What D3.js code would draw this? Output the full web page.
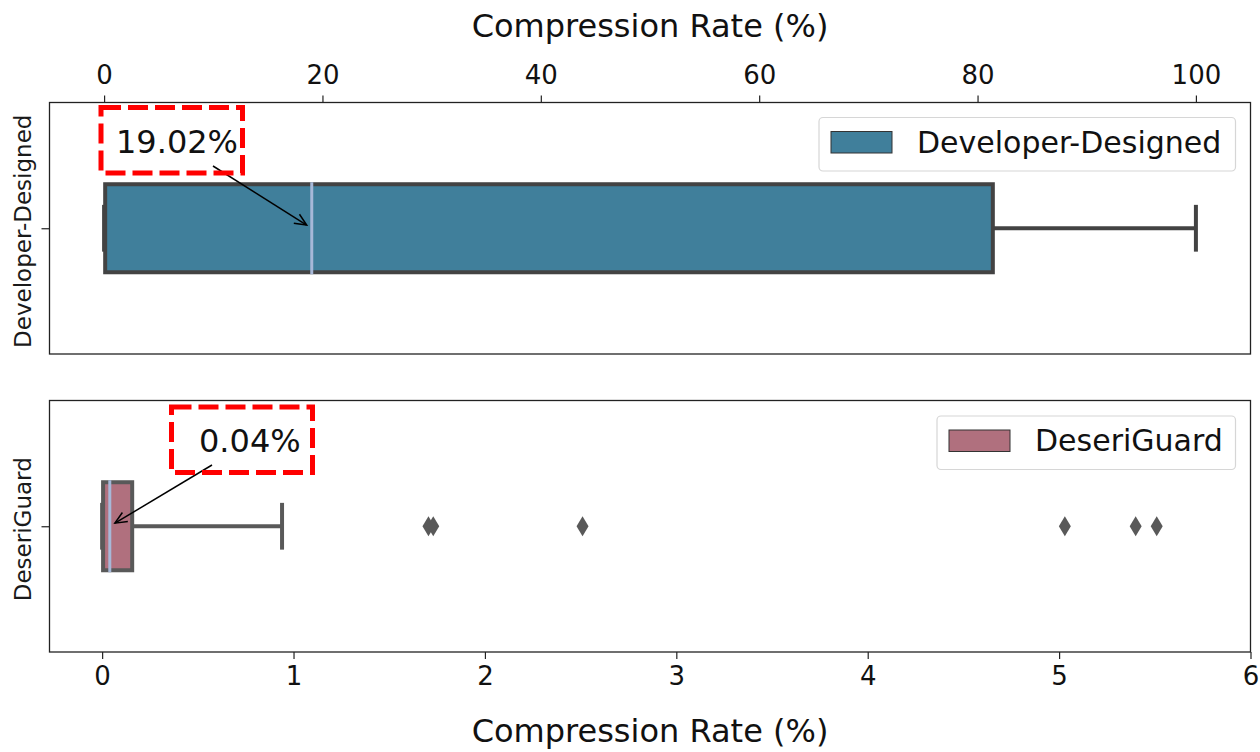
<!DOCTYPE html>
<html><head><meta charset="utf-8">
<script src="https://cdn.jsdelivr.net/npm/d3@7"></script>
<style>body{margin:0;background:#fff}svg{display:block;font-family:"DejaVu Sans",sans-serif}</style>
</head><body><svg id="c" width="1260" height="752"></svg>
<script>
// ---- data ----
const categories = ["Developer-Designed", "DeseriGuard"];
const whiskerLow = [0, 0];
const q1 = [0.1, 0.005];
const medians = [19.02, 0.04];
const q3 = [81.4, 0.157];
const whiskerHigh = [100, 0.94];
const outliers = [[], [1.705, 1.73, 2.51, 5.03, 5.40, 5.51]];
const annotationLabels = ["19.02%", "0.04%"];
const topTicks = [0, 20, 40, 60, 80, 100];
const bottomTicks = [0, 1, 2, 3, 4, 5, 6];
const axisTitle = "Compression Rate (%)";

// ---- styles / layout ----
const fills = ["#407f9b", "#b0707e"];
const edges = ["#434343", "#595959"];
const medianColor = "#a7b8d8";
const L = 49.5, R = 1250.5;
const panels = [{top: 102.5, bottom: 354}, {top: 400.5, bottom: 652}];
const domains = [[-5, 105], [-0.275, 6]];
const annLayout = [
  {tx: 116, ty: 153, rect: [101, 107.5, 242.5, 173], start: [213, 166]},
  {tx: 199, ty: 452, rect: [171.5, 407, 312.5, 472.5], start: [212, 465]}
];
const legendLayout = [
  {x0: 819, x1: 1235.5, y0: 117.5, y1: 171},
  {x0: 937, x1: 1235.5, y0: 416, y1: 469.5}
];

const svg = d3.select("#c");

const thinDiamond = {
  draw(ctx, size) {
    const w = 6, h = 10;
    ctx.moveTo(0, -h); ctx.lineTo(w, 0); ctx.lineTo(0, h); ctx.lineTo(-w, 0); ctx.closePath();
  }
};

categories.forEach((cat, i) => {
  const p = panels[i];
  const x = d3.scaleLinear().domain(domains[i]).range([L, R]);
  const y = d3.scaleLinear().domain([-0.5, 0.5]).range([p.top, p.bottom]);
  const g = svg.append("g");

  // axes
  if (i === 0) {
    const ax = g.append("g").attr("transform", `translate(0,${p.top})`)
      .call(d3.axisTop(x).tickValues(topTicks).tickSize(7).tickPadding(12).tickFormat(d3.format("d")));
    ax.select(".domain").remove();
    ax.selectAll("line").attr("stroke", "#222").attr("stroke-width", 1.2);
    ax.selectAll("text").attr("font-size", 26).attr("fill", "#111").attr("font-family", "DejaVu Sans");
  } else {
    const ax = g.append("g").attr("transform", `translate(0,${p.bottom})`)
      .call(d3.axisBottom(x).tickValues(bottomTicks).tickSize(7).tickPadding(8).tickFormat(d3.format("d")));
    ax.select(".domain").remove();
    ax.selectAll("line").attr("stroke", "#222").attr("stroke-width", 1.2);
    ax.selectAll("text").attr("font-size", 26).attr("fill", "#111").attr("font-family", "DejaVu Sans");
  }
  const ay = g.append("g").attr("transform", `translate(${L},0)`)
    .call(d3.axisLeft(y).tickValues([0]).tickSize(8).tickFormat(""));
  ay.select(".domain").remove();
  ay.selectAll("line").attr("stroke", "#222").attr("stroke-width", 1.2);

  // y label
  g.append("text").attr("transform", `translate(31,${y(0) + 3}) rotate(-90)`)
    .attr("text-anchor", "middle").attr("font-size", 23).attr("fill", "#1a1a1a").text(cat);

  // box
  const bw = 0.175, cw = 0.093;
  const sw = 4;
  g.append("line").attr("x1", x(whiskerLow[i])).attr("x2", x(q1[i])).attr("y1", y(0)).attr("y2", y(0))
    .attr("stroke", edges[i]).attr("stroke-width", sw);
  g.append("line").attr("x1", x(q3[i])).attr("x2", x(whiskerHigh[i])).attr("y1", y(0)).attr("y2", y(0))
    .attr("stroke", edges[i]).attr("stroke-width", sw);
  [whiskerLow[i], whiskerHigh[i]].forEach(v => {
    g.append("line").attr("x1", x(v)).attr("x2", x(v)).attr("y1", y(-cw)).attr("y2", y(cw))
      .attr("stroke", edges[i]).attr("stroke-width", sw);
  });
  g.append("rect").attr("x", x(q1[i])).attr("width", x(q3[i]) - x(q1[i]))
    .attr("y", y(-bw)).attr("height", y(bw) - y(-bw))
    .attr("fill", fills[i]).attr("stroke", edges[i]).attr("stroke-width", sw);
  g.append("line").attr("x1", x(medians[i])).attr("x2", x(medians[i]))
    .attr("y1", y(-bw) - sw / 2).attr("y2", y(bw) + sw / 2)
    .attr("stroke", medianColor).attr("stroke-width", 3);

  // outliers
  g.selectAll(".out").data(outliers[i]).enter().append("path")
    .attr("d", d3.symbol().type(thinDiamond))
    .attr("transform", d => `translate(${x(d)},${y(0)})`)
    .attr("fill", edges[i]);

  // frame
  g.append("rect").attr("x", L).attr("y", p.top).attr("width", R - L).attr("height", p.bottom - p.top)
    .attr("fill", "none").attr("stroke", "#222").attr("stroke-width", 1.3);

  // legend
  const lg = legendLayout[i];
  g.append("rect").attr("x", lg.x0).attr("y", lg.y0).attr("width", lg.x1 - lg.x0).attr("height", lg.y1 - lg.y0)
    .attr("rx", 4).attr("fill", "#fff").attr("fill-opacity", 0.8).attr("stroke", "#d6d6d6").attr("stroke-width", 1.2);
  g.append("rect").attr("x", lg.x0 + 12).attr("y", lg.y0 + 14).attr("width", 61).attr("height", 21.5)
    .attr("fill", fills[i]).attr("stroke", "#333").attr("stroke-width", 1);
  g.append("text").attr("x", lg.x0 + 98).attr("y", lg.y0 + 35).attr("font-size", 30).attr("fill", "#111").text(cat);

  // annotation
  const a = annLayout[i];
  const [sx, sy] = a.start;
  const mx = x(medians[i]), my = y(0);
  const dx = mx - sx, dy = my - sy, len = Math.hypot(dx, dy);
  const ux = dx / len, uy = dy / len;
  const ex = mx - ux * 6, ey = my - uy * 6;
  g.append("line").attr("x1", sx).attr("y1", sy).attr("x2", ex).attr("y2", ey)
    .attr("stroke", "#000").attr("stroke-width", 1.5);
  const ang = Math.atan2(uy, ux), hl = 13, ha = 0.42;
  const hp = [[ex - hl * Math.cos(ang - ha), ey - hl * Math.sin(ang - ha)], [ex, ey], [ex - hl * Math.cos(ang + ha), ey - hl * Math.sin(ang + ha)]];
  g.append("path").attr("d", d3.line()(hp)).attr("fill", "none").attr("stroke", "#000").attr("stroke-width", 1.5);
  const [rx0, ry0, rx1, ry1] = a.rect;
  g.append("rect").attr("x", rx0).attr("y", ry0).attr("width", rx1 - rx0).attr("height", ry1 - ry0)
    .attr("fill", "none").attr("stroke", "#ff0000").attr("stroke-width", 5).attr("stroke-dasharray", "20,7");
  g.append("text").attr("x", a.tx).attr("y", a.ty).attr("font-size", 32).attr("fill", "#111").text(annotationLabels[i]);
});

// axis titles
svg.append("text").attr("x", (L + R) / 2).attr("y", 37).attr("text-anchor", "middle")
  .attr("font-size", 32).attr("fill", "#111").text(axisTitle);
svg.append("text").attr("x", (L + R) / 2).attr("y", 742).attr("text-anchor", "middle")
  .attr("font-size", 32).attr("fill", "#111").text(axisTitle);
</script></body></html>
